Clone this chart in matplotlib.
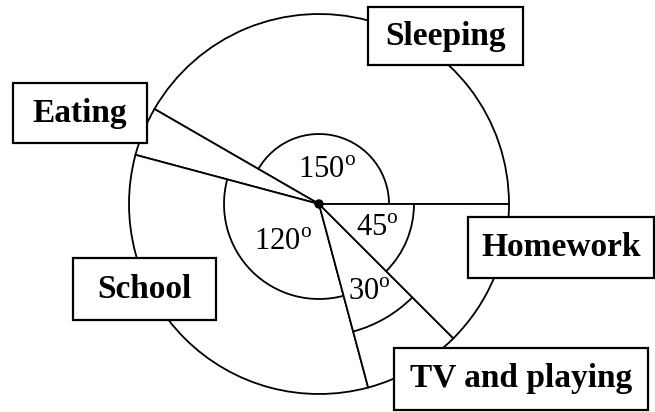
import matplotlib
matplotlib.use("Agg")
import matplotlib.pyplot as plt
from matplotlib.patches import Arc, Rectangle, Circle
import numpy as np

plt.rcParams['font.family'] = ['Liberation Serif', 'DejaVu Serif']
plt.rcParams['mathtext.fontset'] = 'custom'
plt.rcParams['mathtext.rm'] = 'Liberation Serif'

# Data: activities and their angles (degrees), counter-clockwise from 0°
categories = ["Sleeping", "Eating", "School", "TV and playing", "Homework"]
angles = [150, 15, 120, 30, 45]
angle_shown = [True, False, True, True, True]

W, H = 655, 412
fig = plt.figure(figsize=(W / 100, H / 100), dpi=100)
ax = fig.add_axes([0, 0, 1, 1])

cx, cy, R = 319, 208, 190

ax.pie(angles, startangle=0, counterclock=True, radius=R, center=(cx, cy),
       wedgeprops=dict(facecolor='white', edgecolor='black', linewidth=1.3),
       frame=True)

# angle arcs (layout: radius of arc per category) and angle label positions
arc_radius = {"Sleeping": 70, "School": 95, "TV and playing": 132, "Homework": 95}
angle_label_pos = {"Sleeping": (327, 242), "School": (283, 170),
                   "TV and playing": (369, 120), "Homework": (377, 184)}

start = 0
for cat, a, show in zip(categories, angles, angle_shown):
    if show:
        r = arc_radius[cat]
        ax.add_patch(Arc((cx, cy), 2 * r, 2 * r, theta1=start, theta2=start + a,
                         color='black', lw=1.3, zorder=3))
        x, y = angle_label_pos[cat]
        ax.text(x, y, f"{a}" + r"$^{\mathrm{o}}$", fontsize=22, ha='center', va='center',
                color='black', zorder=5)
    start += a

ax.add_patch(Circle((cx, cy), 4, color='black', zorder=6))

# label boxes: (x0, y0, x1, y1) in pixel-like coords (y up)
boxes = {
    "Sleeping": (368, 347, 523, 405),
    "Eating": (13, 269, 147, 329),
    "Homework": (468, 134, 654, 195),
    "School": (73, 92, 216, 154),
    "TV and playing": (394, 2, 648, 64),
}
for cat in categories:
    x0, y0, x1, y1 = boxes[cat]
    ax.add_patch(Rectangle((x0, y0), x1 - x0, y1 - y0, facecolor='white',
                           edgecolor='black', lw=1.6, zorder=8))
    ax.text((x0 + x1) / 2, (y0 + y1) / 2, cat, fontsize=24, fontweight='bold',
            ha='center', va='center', color='black', zorder=9)

ax.set_xlim(0, W)
ax.set_ylim(0, H)
ax.set_aspect('equal')
ax.axis('off')

fig.savefig("out.png", dpi=100, facecolor='white')
